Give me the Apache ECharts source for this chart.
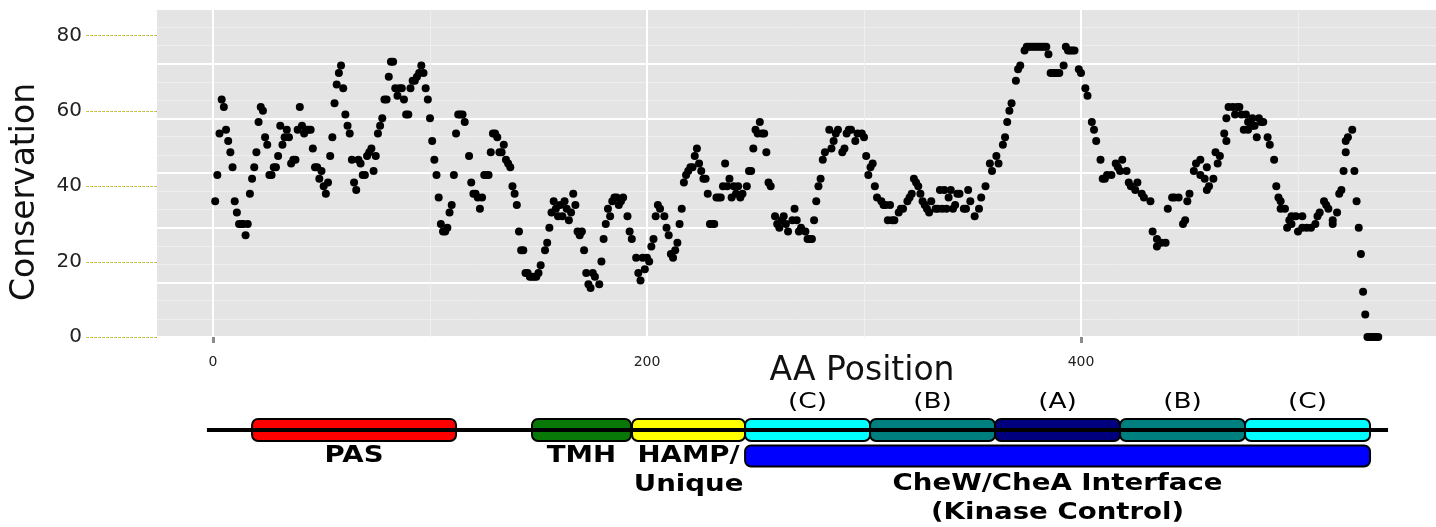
<!DOCTYPE html>
<html>
<head>
<meta charset="utf-8">
<script src="https://cdn.jsdelivr.net/npm/echarts@6/dist/echarts.min.js"></script>
<style>
html,body{margin:0;padding:0;background:#fff;}
#chart{width:1436px;height:527px;}
</style>
</head>
<body>
<div id="chart"></div>
<script>
// ---- Conservation data (AA position, conservation %) ----
const aaPos = [1,2,3,4,5,6,7,8,9,10,11,12,13,14,15,16,17,18,19,20,21,22,23,24,25,26,27,28,29,30,31,32,33,34,35,36,37,38,39,40,41,42,43,44,45,46,47,48,49,50,51,52,53,54,55,56,57,58,59,60,
61,62,63,64,65,66,67,68,69,70,71,72,73,74,75,76,77,78,79,80,81,82,83,84,85,86,87,88,89,90,91,92,93,94,95,96,97,98,99,100,101,102,103,104,105,106,107,108,109,110,111,112,113,114,115,116,118,119,120,121,122,123,124,125,126,127,128,129,
130,131,132,133,134,135,136,137,138,139,140,141,142,143,144,145,146,147,148,149,150,151,153,154,155,156,157,158,159,160,161,162,163,164,165,166,167,168,169,170,171,172,173,174,175,176,178,179,180,181,182,183,184,185,186,187,188,189,191,192,193,195,196,197,198,199,
200,201,202,203,204,205,206,208,209,210,211,212,213,214,215,216,217,218,219,220,221,222,223,224,225,226,227,228,229,230,231,232,233,234,235,236,237,238,239,240,241,242,243,244,246,247,248,249,250,251,252,253,254,255,256,257,259,260,261,262,263,264,265,267,
268,269,270,271,273,274,275,276,277,278,279,280,281,282,284,285,286,287,288,290,291,292,293,294,296,297,299,300,301,302,303,304,305,306,308,309,310,311,312,313,314,316,317,318,320,321,322,323,324,325,326,327,328,329,330,331,333,334,335,336,
337,338,339,340,341,342,343,344,346,347,348,349,351,353,354,356,358,359,361,362,364,365,366,367,368,370,371,372,374,375,376,377,378,379,380,381,382,383,384,385,386,387,388,389,390,392,393,394,395,396,397,399,400,402,403,405,406,
407,409,410,411,412,414,416,417,418,419,421,422,423,425,426,428,429,432,433,435,435,437,439,440,442,443,445,447,448,449,450,452,453,455,455,457,458,458,459,461,462,463,464,466,467,467,468,470,471,472,473,474,475,
476,477,477,479,479,480,481,482,483,484,486,487,489,490,491,492,492,494,495,496,497,497,499,500,502,502,504,506,508,509,510,512,513,514,516,516,518,519,520,521,522,522,523,525,526,527,528,529,530,531,532,533,534,535,536,537];
const conservation = [36,43,54,63,61,55,52,49,45,36,33,30,30,30,27,30,38,42,45,49,57,61,60,53,51,43,43,45,45,48,56,51,53,55,53,46,47,47,55,61,56,54,55,55,55,50,45,45,42,44,40,38,41,48,53,62,67,70,72,66,
59,56,54,47,41,39,47,46,43,43,48,49,50,44,48,54,56,58,63,63,69,73,73,66,64,66,66,63,59,59,66,68,68,69,70,72,70,66,63,58,52,47,43,37,30,28,28,29,33,35,43,54,59,59,59,57,48,41,38,38,37,34,37,43,43,43,49,54,
54,53,49,49,51,47,46,45,40,38,35,28,23,23,17,17,16,16,16,16,17,19,23,25,29,33,36,34,32,35,32,36,34,31,33,38,35,28,27,28,23,17,14,13,17,16,14,20,26,30,34,32,36,37,37,35,36,37,32,28,26,21,17,15,21,18,
21,20,24,26,32,35,34,32,29,27,22,21,23,25,30,34,41,43,44,45,45,48,50,46,44,42,42,38,30,30,30,37,37,37,40,46,40,42,37,40,38,40,37,38,40,44,44,50,55,54,57,54,54,49,41,40,32,30,29,31,32,30,28,31,
34,31,28,29,28,26,26,26,31,36,40,42,47,49,55,50,52,54,55,49,50,54,55,55,52,54,54,53,48,43,45,46,40,37,36,35,35,31,35,31,31,33,34,34,36,37,38,42,41,40,38,36,35,34,33,36,34,34,39,34,
39,34,37,39,34,35,38,38,34,34,39,36,32,34,37,40,46,44,48,46,51,53,57,60,62,68,71,72,76,77,77,77,77,77,77,77,77,77,77,75,70,70,70,70,70,72,77,76,76,76,76,71,70,66,64,57,55,
52,47,42,42,43,43,46,45,44,47,44,41,40,39,41,38,37,36,28,26,24,25,25,34,37,37,37,30,31,36,38,44,46,47,43,42,45,39,40,42,49,46,48,54,52,58,61,61,59,61,61,59,55,
59,55,57,58,56,56,53,58,57,57,53,51,47,40,37,34,36,34,29,31,32,30,32,28,32,29,29,29,30,32,33,36,35,34,31,30,33,38,39,44,49,52,53,55,44,36,29,22,12,6,0,0,0,0,0,0];

// ---- Axis ticks / gridlines ----
const yTicks = [0, 20, 40, 60, 80];
const xLabels = [0, 200, 400];
const xTickMarks = [0, 400];
const xGridMajor = [0, 200, 400];
const xGridMinor = [100, 300, 500];

// ---- Domain architecture ----
const domainLabel = ['PAS', 'TMH', 'HAMP/\nUnique', '(C)', '(B)', '(A)', '(B)', '(C)', 'CheW/CheA Interface\n(Kinase Control)'];
const domainStart = [18.0, 147.0, 193.1, 245.2, 302.8, 360.4, 418.0, 475.6, 245.2];
const domainEnd   = [112.0, 192.6, 245.2, 302.8, 360.4, 418.0, 475.6, 533.2, 533.2];
const domainTrack = ['main','main','main','main','main','main','main','main','interface'];
const domainColor = ['#ff0000','#087808','#ffff00','#00ffff','#007f7f','#00007f','#007f7f','#00ffff','#0000ff'];
const domainLabelAbove = [false,false,false,true,true,true,true,true,false];
const tracks = ['main', 'interface'];
const backbone = [-2.8, 541.5];

const X_MIN = -25.81, X_MAX = 563.6;
const FONT = '"DejaVu Sans", sans-serif';
const TICK_LEN = 71;

const chart = echarts.init(document.getElementById('chart'), null, {renderer: 'canvas'});

const scatterData = aaPos.map((x, i) => [x, conservation[i]]);
const domainData = domainStart.map((s, i) => [s, domainEnd[i], domainTrack[i], i]);

function renderDomain(params, api) {
  const i = api.value(3);
  const track = domainTrack[i];
  const s = api.coord([api.value(0), track]);
  const e = api.coord([api.value(1), track]);
  const h = track === 'main' ? 22 : 21;
  const cy = s[1];
  const children = [{
    type: 'rect',
    shape: {x: s[0], y: cy - h / 2, width: e[0] - s[0], height: h, r: 6},
    style: {fill: domainColor[i], stroke: '#000', lineWidth: 2}
  }];
  const cx = (s[0] + e[0]) / 2;
  if (domainLabelAbove[i]) {
    children.push({
      type: 'text', x: cx, y: cy - 28, scaleX: 1.2,
      style: {text: domainLabel[i], font: '22px ' + FONT, fill: '#000',
              align: 'center', verticalAlign: 'middle', textAlign: 'center', textVerticalAlign: 'middle'}
    });
  } else {
    const off = track === 'main' ? 11.5 : 13.5;
    children.push({
      type: 'text', x: cx, y: cy + off, scaleX: 1.2,
      style: {text: domainLabel[i], font: 'bold 23px ' + FONT, fill: '#000', lineHeight: 29,
              align: 'center', verticalAlign: 'top', textAlign: 'center', textVerticalAlign: 'top'}
    });
  }
  return {type: 'group', children: children};
}

function renderYTick(params, api) {
  const p = api.coord([X_MIN, api.value(0)]);
  const y = Math.round(p[1]) + 0.5;
  return {
    type: 'group',
    children: [
      {type: 'line', shape: {x1: p[0] - TICK_LEN, y1: y, x2: p[0], y2: y},
       style: {stroke: '#a6a6a6', lineWidth: 1, lineDash: [1, 1]}},
      {type: 'line', shape: {x1: p[0] - TICK_LEN, y1: y, x2: p[0], y2: y},
       style: {stroke: '#d6cf1e', lineWidth: 1, lineDash: [2, 2]}}
    ]
  };
}

const option = {
  animation: false,
  backgroundColor: '#ffffff',
  grid: [
    {left: 157, right: 0, top: 9, height: 328, show: true, backgroundColor: '#e4e4e4', borderWidth: 0},
    {left: 157, right: 0, top: 417, height: 52, show: false}
  ],
  xAxis: [
    {
      type: 'value', gridIndex: 0, min: X_MIN, max: X_MAX,
      axisLine: {show: false},
      axisTick: {show: true, customValues: xTickMarks, length: 6, lineStyle: {color: '#8c8c8c', width: 3}},
      axisLabel: {show: true, customValues: xLabels, margin: 18, fontSize: 14, color: '#222', fontFamily: FONT},
      splitLine: {show: false}
    },
    {
      type: 'value', gridIndex: 1, min: X_MIN, max: X_MAX, show: false
    }
  ],
  yAxis: [
    {
      type: 'value', gridIndex: 0, min: 0, max: 87, interval: 20,
      axisLine: {show: false},
      axisTick: {show: false},
      axisLabel: {show: true, customValues: yTicks, margin: 75, fontSize: 20, color: '#222', fontFamily: FONT,
                  formatter: v => (v % 20 === 0 ? String(v) : '')},
      splitLine: {show: false}
    },
    {
      // panel gridlines (6 equal major bands, 3 minor each)
      type: 'value', gridIndex: 0, position: 'right', min: 0, max: 6, interval: 1,
      axisLine: {show: false}, axisTick: {show: false}, axisLabel: {show: false},
      splitLine: {show: true, lineStyle: {color: '#ffffff', width: 2}},
      minorTick: {show: false, splitNumber: 3},
      minorSplitLine: {show: true, lineStyle: {color: '#efefef', width: 1}}
    },
    {
      type: 'category', gridIndex: 1, data: tracks, inverse: true, show: false
    }
  ],
  graphic: [
    {type: 'text', x: 862, y: 371, z: 10,
     style: {text: 'AA Position', font: '33px ' + FONT, fill: '#111',
             align: 'center', verticalAlign: 'middle', textAlign: 'center', textVerticalAlign: 'middle'}},
    {type: 'text', x: 25, y: 192, rotation: Math.PI / 2, z: 10,
     style: {text: 'Conservation', font: '33px ' + FONT, fill: '#111',
             align: 'center', verticalAlign: 'middle', textAlign: 'center', textVerticalAlign: 'middle'}}
  ],
  series: [
    {
      type: 'scatter', xAxisIndex: 0, yAxisIndex: 0, data: [], z: 1, silent: true,
      markLine: {
        silent: true, symbol: ['none', 'none'], label: {show: false}, animation: false,
        data: xGridMajor.map(v => ({xAxis: v, lineStyle: {color: '#ffffff', width: 2, type: 'solid'}}))
          .concat(xGridMinor.map(v => ({xAxis: v, lineStyle: {color: '#efefef', width: 1, type: 'solid'}})))
      }
    },
    {
      type: 'custom', xAxisIndex: 0, yAxisIndex: 0, data: yTicks.map(v => [v]), z: 2, silent: true,
      clip: false, encode: {y: 0}, renderItem: renderYTick
    },
    {
      type: 'scatter', xAxisIndex: 0, yAxisIndex: 0, data: scatterData, z: 5,
      symbol: 'circle', symbolSize: 8, itemStyle: {color: '#000', opacity: 1}
    },
    {
      type: 'custom', xAxisIndex: 1, yAxisIndex: 2, data: domainData, z: 3,
      encode: {x: [0, 1], y: 2},
      renderItem: renderDomain
    },
    {
      type: 'line', xAxisIndex: 1, yAxisIndex: 2, z: 4, symbol: 'none',
      data: [[backbone[0], 'main'], [backbone[1], 'main']],
      lineStyle: {color: '#000', width: 4}
    }
  ]
};
chart.setOption(option);
</script>
</body>
</html>
